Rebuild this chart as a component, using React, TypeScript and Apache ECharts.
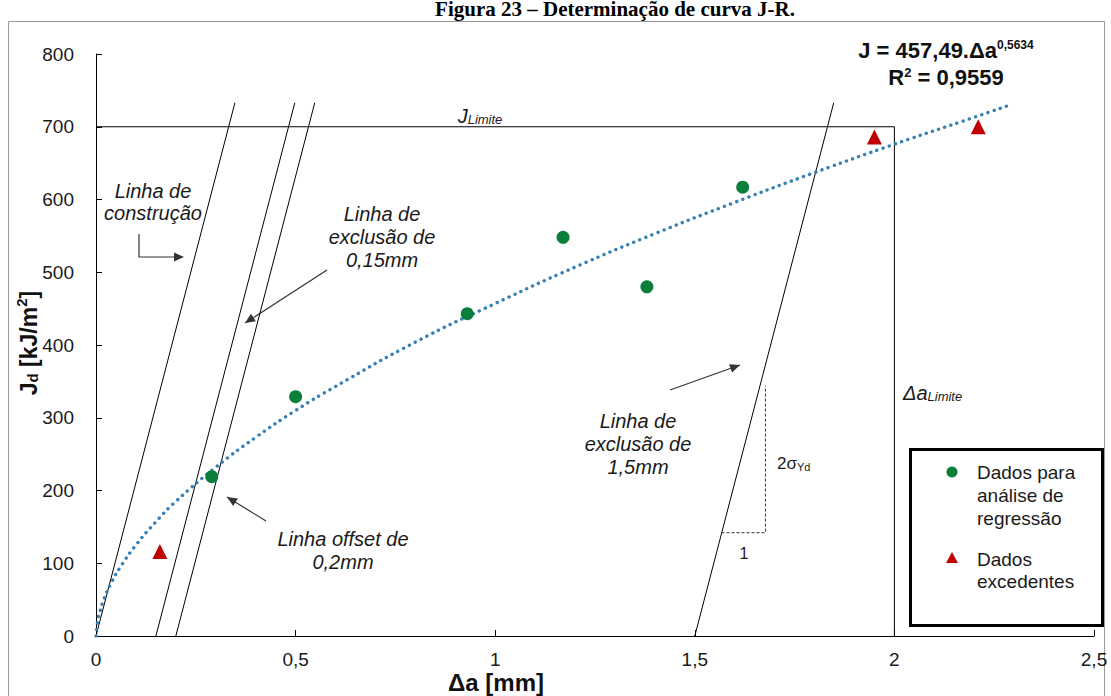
import React, { useEffect, useRef } from "react";
import * as echarts from "echarts";

// ---- data ----
const regressionDa = [0.29, 0.5, 0.93, 1.17, 1.38, 1.62];
const regressionJ = [219, 329, 443, 548, 480, 617];
const excessDa = [0.16, 1.95, 2.21];
const excessJ = [116, 686, 700];
const trendDa = [0, 0.005, 0.01, 0.02, 0.04, 0.06, 0.1, 0.15, 0.2, 0.3, 0.4, 0.5, 0.6, 0.8, 1.0, 1.2, 1.4, 1.6, 1.8, 2.0, 2.2, 2.29];
const trendJ = [0, 23, 34, 51, 75, 94, 125, 157, 185, 232, 273, 310, 343, 404, 457, 507, 553, 596, 637, 676, 713, 730];
const exclusionOffsets = [0, 0.15, 0.2, 1.5];
const exclusionTopJ = 733;
const exclusionRun = 0.348;
const jLimit = 700;
const daLimit = 2.0;
const slopeTriDa = [1.567, 1.677, 1.677];
const slopeTriJ = [142, 142, 344];
const xMin = 0, xMax = 2.5, xStep = 0.5;
const yMin = 0, yMax = 800, yStep = 100;

const SANS = "'Liberation Sans', Arial, sans-serif";
const SERIF = "'Liberation Serif', 'Times New Roman', serif";
const ARROW = "#333333";
const GREEN = "#0b7f3a";
const RED = "#c00000";

function arrowHead(x1: number, y1: number, x2: number, y2: number, size = 10, width = 4.5) {
  const a = Math.atan2(y2 - y1, x2 - x1);
  const bx = x2 - size * Math.cos(a);
  const by = y2 - size * Math.sin(a);
  const px = -Math.sin(a) * width;
  const py = Math.cos(a) * width;
  return {
    type: "polygon",
    shape: { points: [[x2, y2], [bx + px, by + py], [bx - px, by - py]] },
    style: { fill: ARROW },
    silent: true,
  };
}

function arrow(x1: number, y1: number, x2: number, y2: number) {
  return [
    { type: "line", shape: { x1, y1, x2, y2 }, style: { stroke: ARROW, lineWidth: 1.2 }, silent: true },
    arrowHead(x1, y1, x2, y2),
  ];
}

function label(text: string, x: number, y: number, extra: any = {}) {
  return {
    type: "text",
    x,
    y,
    silent: true,
    style: {
      text,
      font: `italic 20px ${SANS}`,
      fill: "#1a1a1a",
      align: "center",
      verticalAlign: "middle",
      ...extra,
    },
  };
}

export default function App() {
  const ref = useRef<HTMLDivElement>(null);

  useEffect(() => {
    if (!ref.current) return;
    const chart = echarts.init(ref.current, undefined, { renderer: "svg" });

    const lineSeries = exclusionOffsets.map((off, i) => ({
      type: "line",
      name: `excl${i}`,
      data: [[off, 0], [off + exclusionRun, exclusionTopJ]],
      symbol: "none",
      lineStyle: { color: "#000", width: 1 },
      z: 2,
      silent: true,
    }));

    const option: any = {
      animation: false,
      backgroundColor: "#fff",
      grid: { left: 96, right: 17, top: 54, bottom: 60 },
      xAxis: {
        type: "value",
        min: xMin,
        max: xMax,
        interval: xStep,
        splitLine: { show: false },
        axisLine: { show: true, lineStyle: { color: "#000", width: 1 } },
        axisTick: { show: true, inside: true, length: 6, lineStyle: { color: "#000" } },
        axisLabel: {
          margin: 14,
          fontFamily: SANS,
          fontSize: 19,
          color: "#1a1a1a",
          formatter: (v: number) => String(v).replace(".", ","),
        },
      },
      yAxis: {
        type: "value",
        min: yMin,
        max: yMax,
        interval: yStep,
        splitLine: { show: false },
        axisLine: { show: true, lineStyle: { color: "#000", width: 1 } },
        axisTick: { show: true, inside: true, length: 6, lineStyle: { color: "#000" } },
        axisLabel: { margin: 22, fontFamily: SANS, fontSize: 19, color: "#1a1a1a" },
      },
      series: [
        ...lineSeries,
        {
          type: "line",
          name: "JLimite",
          data: [[0, jLimit], [daLimit, jLimit]],
          symbol: "none",
          lineStyle: { color: "#000", width: 1 },
          z: 2,
          silent: true,
        },
        {
          type: "line",
          name: "DaLimite",
          data: [[daLimit, 0], [daLimit, jLimit]],
          symbol: "none",
          lineStyle: { color: "#000", width: 1 },
          z: 2,
          silent: true,
        },
        {
          type: "line",
          name: "slope",
          data: slopeTriDa.map((d, i) => [d, slopeTriJ[i]]),
          symbol: "none",
          lineStyle: { color: "#333", width: 1, type: [3, 2] },
          z: 2,
          silent: true,
        },
        {
          type: "line",
          name: "Tendência",
          data: trendDa.map((d, i) => [d, trendJ[i]]),
          symbol: "none",
          smooth: true,
          lineStyle: { color: "#3680b4", width: 3.4, type: [0.1, 6.4], cap: "round" },
          z: 3,
          silent: true,
        },
        {
          type: "scatter",
          name: "Dados para análise de regressão",
          data: regressionDa.map((d, i) => [d, regressionJ[i]]),
          symbol: "circle",
          symbolSize: 13,
          itemStyle: { color: GREEN, opacity: 1 },
          z: 4,
        },
        {
          type: "scatter",
          name: "Dados excedentes",
          data: excessDa.map((d, i) => [d, excessJ[i]]),
          symbol: "triangle",
          symbolSize: 15,
          itemStyle: { color: RED, opacity: 1 },
          z: 4,
        },
      ],
      graphic: [
        // outer frame
        {
          type: "rect",
          shape: { x: 8.5, y: 21.5, width: 1096, height: 700 },
          style: { fill: "none", stroke: "#9a9a9a", lineWidth: 1 },
          silent: true,
        },
        // title (cut at the top edge, as in the reference)
        {
          type: "text",
          x: 615,
          y: 19,
          silent: true,
          style: {
            text: "Figura 23 – Determinação de curva J-R.",
            font: `bold 21px ${SERIF}`,
            fill: "#000",
            align: "center",
            verticalAlign: "bottom",
          },
        },
        // equation
        {
          type: "text",
          x: 946,
          y: 50,
          silent: true,
          style: {
            text: "{b|J = 457,49.Δa}{s|0,5634}",
            align: "center",
            verticalAlign: "middle",
            rich: {
              b: { font: `bold 22px ${SANS}`, fill: "#111", lineHeight: 23, verticalAlign: "bottom" },
              s: { font: `bold 12px ${SANS}`, fill: "#111", lineHeight: 12, verticalAlign: "top" },
            },
          },
        },
        {
          type: "text",
          x: 946,
          y: 77,
          silent: true,
          style: {
            text: "{b|R}{s|2}{b| = 0,9559}",
            align: "center",
            verticalAlign: "middle",
            rich: {
              b: { font: `bold 22px ${SANS}`, fill: "#111", lineHeight: 23, verticalAlign: "bottom" },
              s: { font: `bold 13px ${SANS}`, fill: "#111", lineHeight: 13, verticalAlign: "top" },
            },
          },
        },
        // axis titles
        {
          type: "text",
          x: 27,
          y: 343,
          rotation: Math.PI / 2,
          silent: true,
          style: {
            text: "{b|J}{d|d}{b| [kJ/m}{s|2}{b|]}",
            align: "center",
            verticalAlign: "middle",
            rich: {
              b: { font: `bold 23px ${SANS}`, fill: "#111", lineHeight: 26, verticalAlign: "bottom" },
              d: { font: `bold 15px ${SANS}`, fill: "#111", lineHeight: 15, verticalAlign: "bottom" },
              s: { font: `bold 15px ${SANS}`, fill: "#111", lineHeight: 15, verticalAlign: "top" },
            },
          },
        },
        {
          type: "text",
          x: 496,
          y: 682,
          silent: true,
          style: {
            text: "Δa [mm]",
            font: `bold 24px ${SANS}`,
            fill: "#111",
            align: "center",
            verticalAlign: "middle",
          },
        },
        // J limite / Δa limite labels
        {
          type: "text",
          x: 480,
          y: 115,
          silent: true,
          style: {
            text: "{i|J}{s|Limite}",
            align: "center",
            verticalAlign: "middle",
            rich: {
              i: { font: `italic 20px ${SANS}`, fill: "#1a1a1a", lineHeight: 22, verticalAlign: "bottom" },
              s: { font: `italic 13px ${SANS}`, fill: "#1a1a1a", lineHeight: 13, verticalAlign: "bottom" },
            },
          },
        },
        {
          type: "text",
          x: 903,
          y: 392,
          silent: true,
          style: {
            text: "{i|Δa}{s|Limite}",
            align: "left",
            verticalAlign: "middle",
            rich: {
              i: { font: `italic 20px ${SANS}`, fill: "#1a1a1a", lineHeight: 22, verticalAlign: "bottom" },
              s: { font: `italic 13px ${SANS}`, fill: "#1a1a1a", lineHeight: 13, verticalAlign: "bottom" },
            },
          },
        },
        // annotations
        label("Linha de", 153, 191),
        label("construção", 153, 213),
        { type: "polyline", shape: { points: [[139, 234], [139, 257], [176, 257]] }, style: { stroke: ARROW, lineWidth: 1.2, fill: "none" }, silent: true },
        arrowHead(139, 257, 184, 257),
        label("Linha de", 382, 214),
        label("exclusão de", 382, 237),
        label("0,15mm", 382, 260),
        ...arrow(327, 270, 245, 323),
        label("Linha offset de", 343, 539),
        label("0,2mm", 343, 562),
        ...arrow(266, 521, 227, 497),
        label("Linha de", 638, 421),
        label("exclusão de", 638, 444),
        label("1,5mm", 638, 467),
        ...arrow(670, 390, 740, 365),
        {
          type: "text",
          x: 777,
          y: 462,
          silent: true,
          style: {
            text: "{b|2σ}{s|Yd}",
            align: "left",
            verticalAlign: "middle",
            rich: {
              b: { font: `17px ${SANS}`, fill: "#1a1a1a", lineHeight: 20, verticalAlign: "bottom" },
              s: { font: `11px ${SANS}`, fill: "#1a1a1a", lineHeight: 11, verticalAlign: "bottom" },
            },
          },
        },
        label("1", 744, 553, { font: `16px ${SANS}` }),
        // legend box
        {
          type: "rect",
          shape: { x: 910.5, y: 449.5, width: 192, height: 176 },
          style: { fill: "#fff", stroke: "#000", lineWidth: 3 },
          z: 10,
          silent: true,
        },
        {
          type: "circle",
          shape: { cx: 952, cy: 472, r: 5.5 },
          style: { fill: GREEN },
          z: 11,
          silent: true,
        },
        {
          type: "polygon",
          shape: { points: [[952, 552], [946, 563], [958, 563]] },
          style: { fill: RED },
          z: 11,
          silent: true,
        },
        ...[
          ["Dados para", 472],
          ["análise de", 495],
          ["regressão", 518],
          ["Dados", 559],
          ["excedentes", 581],
        ].map(([t, y]) => ({
          type: "text",
          x: 977,
          y: y as number,
          z: 11,
          silent: true,
          style: {
            text: t as string,
            font: `19px ${SANS}`,
            fill: "#1a1a1a",
            align: "left",
            verticalAlign: "middle",
          },
        })),
      ],
    };

    chart.setOption(option);
    return () => chart.dispose();
  }, []);

  return (
    <div
      ref={ref}
      style={{ position: "absolute", left: 0, top: 0, width: 1111, height: 696, background: "#fff" }}
    />
  );
}
